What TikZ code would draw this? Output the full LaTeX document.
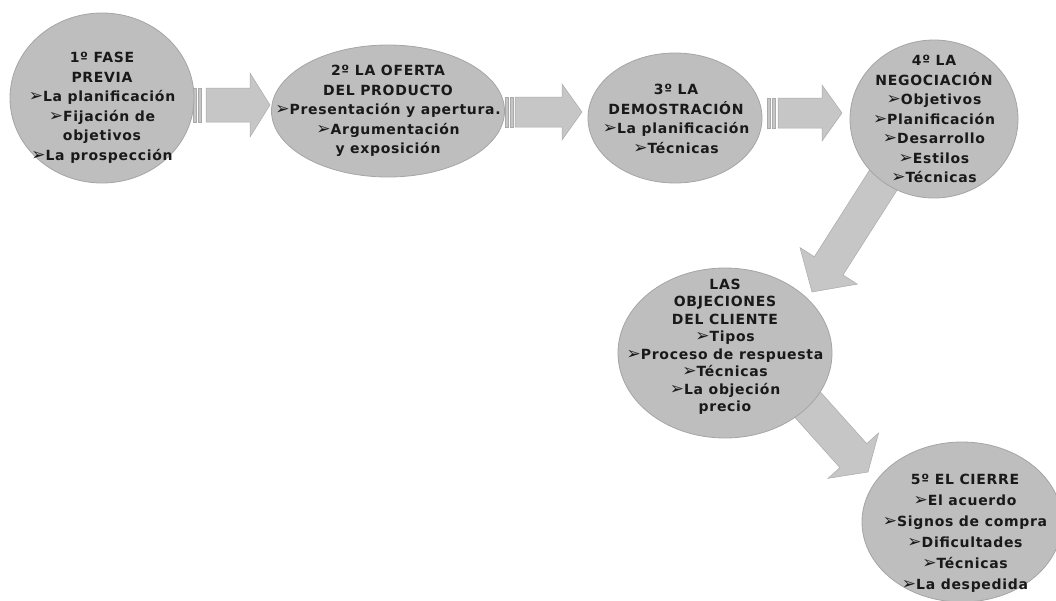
\documentclass[tikz,border=0pt]{standalone}
\usepackage{fontspec}
\setmainfont{DejaVu Sans}
\newfontfamily\symf{DejaVu Sans}
\usetikzlibrary{calc,shapes.geometric,backgrounds}
\definecolor{bubfill}{RGB}{190,190,190}
\definecolor{bubedge}{RGB}{165,165,165}
\definecolor{arrfill}{RGB}{198,198,198}
\definecolor{arredge}{RGB}{170,170,170}
\definecolor{txtcol}{RGB}{25,25,25}
\newcommand\bl{{\symf\fontsize{17}{17}\selectfont ➢}}
\newcommand\blockarr[5]{%
  \coordinate (ba-h) at ($(#2)!#5!(#1)$);
  \filldraw[arrbody]
    ($(#1)!#3!90:(#2)$) -- ($(ba-h)!#3!90:(#2)$) -- ($(ba-h)!#4!90:(#2)$) --
    (#2) -- ($(ba-h)!#4!-90:(#2)$) -- ($(ba-h)!#3!-90:(#2)$) --
    ($(#1)!#3!-90:(#2)$) -- cycle;}
\newcommand\stripe[3]{% tail coordinate, x offset, half height
  \filldraw[arrbody] ($(#1)+(#2,-#3)$) rectangle ($(#1)+(#2+3,#3)$);}
\tikzset{
  bub/.style={ellipse, fill=bubfill, draw=bubedge, line width=0.8pt, inner sep=0pt},
  txt/.style={align=center, text=txtcol, font=\bfseries\fontsize{14}{19.5}\selectfont\addfontfeatures{LetterSpace=5}, inner sep=0pt},
  arrbody/.style={fill=arrfill, draw=arredge, line width=0.5pt, line join=miter},
}
\begin{document}
\begin{tikzpicture}[x=1pt,y=-1pt]
\useasboundingbox (0,0) rectangle (1056,600);
% bubbles
\node[bub, minimum width=184pt, minimum height=170pt] (e1) at (102,98) {};
\node[bub, minimum width=233pt, minimum height=132pt] (e2) at (388,111) {};
\node[bub, minimum width=174pt, minimum height=130pt] (e3) at (675,118) {};
\node[bub, minimum width=168pt, minimum height=158pt] (e4) at (934,119) {};
\node[bub, minimum width=214pt, minimum height=170pt] (e5) at (725,353) {};
\node[bub, minimum width=200pt, minimum height=160pt] (e6) at (962,522) {};
% texts
\node[txt] (t1) at (102,108) {1º FASE\\PREVIA\\\bl La planificación\\\bl Fijación de\\objetivos\\\bl La prospección};
\node[txt] (t2) at (388,111) {2º LA OFERTA\\DEL PRODUCTO\\\bl Presentación y apertura.\\\bl Argumentación\\y exposición};
\node[txt] (t3) at (676,119) {3º LA\\DEMOSTRACIÓN\\\bl La planificación\\\bl Técnicas};
\node[txt] (t4) at (934,119) {4º LA\\NEGOCIACIÓN\\\bl Objetivos\\\bl Planificación\\\bl Desarrollo\\\bl Estilos\\\bl Técnicas};
\node[txt, font=\bfseries\fontsize{14}{17.5}\selectfont\addfontfeatures{LetterSpace=5}] (t5) at (725,347) {LAS\\OBJECIONES\\DEL CLIENTE\\\bl Tipos\\\bl Proceso de respuesta\\\bl Técnicas\\\bl La objeción\\precio};
\node[txt, font=\bfseries\fontsize{14}{21}\selectfont\addfontfeatures{LetterSpace=5}] (t6) at (965,533) {5º EL CIERRE\\\bl El acuerdo\\\bl Signos de compra\\\bl Dificultades\\\bl Técnicas\\\bl La despedida};
% arrow end points
\coordinate (a1s) at (206,105); \coordinate (a1e) at (270,105);
\coordinate (a2s) at (515,112); \coordinate (a2e) at (582,112);
\coordinate (a3s) at (778,113); \coordinate (a3e) at (842,113);
\coordinate (a4s) at (898,157); \coordinate (a4e) at (812,292);
\coordinate (a5s) at (790,385); \coordinate (a5e) at (868,472);
\begin{pgfonlayer}{background}
  \stripe{a1s}{-13}{17}\stripe{a1s}{-7.5}{17}
  \blockarr{a1s}{a1e}{17pt}{32pt}{20pt}
  \stripe{a2s}{-10}{15}\stripe{a2s}{-5}{15}
  \blockarr{a2s}{a2e}{15pt}{28pt}{20pt}
  \stripe{a3s}{-11}{15}\stripe{a3s}{-6}{15}
  \blockarr{a3s}{a3e}{15pt}{28pt}{20pt}
  \blockarr{a4s}{a4e}{17pt}{34pt}{31pt}
  \blockarr{a5s}{a5e}{18pt}{34pt}{22pt}
\end{pgfonlayer}
\end{tikzpicture}
\end{document}
